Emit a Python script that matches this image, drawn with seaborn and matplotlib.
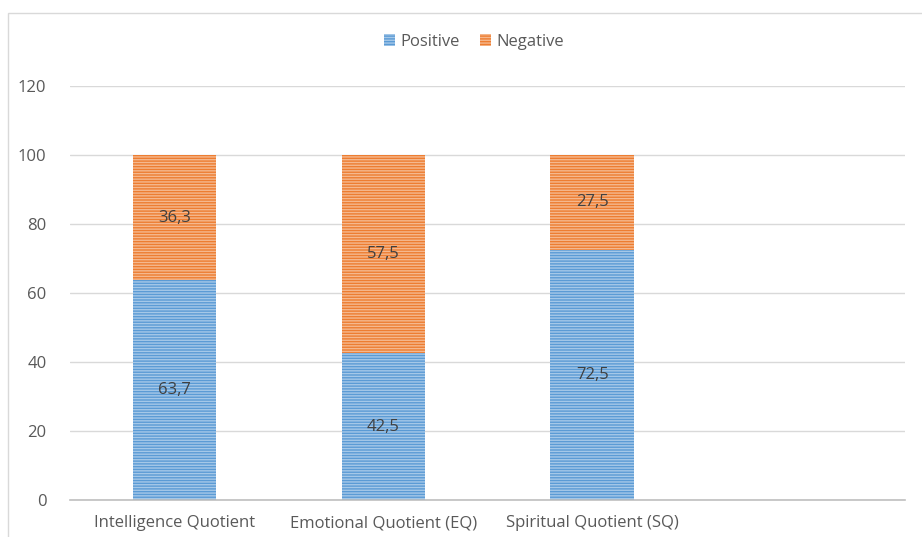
import pandas as pd
import seaborn as sns
import matplotlib.pyplot as plt
from matplotlib.patches import Rectangle

categories = ['Intelligence Quotient', 'Emotional Quotient (EQ)', 'Spiritual Quotient (SQ)']
positive = [63.7, 42.5, 72.5]
negative = [36.3, 57.5, 27.5]
slots = categories + ['']

sns.set_style('white')
plt.rcParams['font.family'] = ['Open Sans', 'DejaVu Sans']
plt.rcParams['hatch.linewidth'] = 1.0

df = pd.DataFrame({'cat': categories, 'pos': positive, 'neg': negative})
df['total'] = df['pos'] + df['neg']

fig = plt.figure(figsize=(9.22, 5.37), dpi=100)
ax = fig.add_axes([0.076, 0.069, 0.906, 0.771])

blue = '#5B9BD5'
orange = '#ED7D31'

sns.barplot(data=df, x='cat', y='total', order=slots, color=orange, width=0.4,
            saturation=1, ax=ax, label='Negative')
sns.barplot(data=df, x='cat', y='pos', order=slots, color=blue, width=0.4,
            saturation=1, ax=ax, label='Positive')

for p in ax.patches:
    fc = p.get_facecolor()
    light = tuple(min(1, c + (1 - c) * 0.45) for c in fc[:3])
    p.set_hatch('------')
    p.set_edgecolor(light)
    p.set_linewidth(0)

for i in range(len(categories)):
    ax.text(i, positive[i] / 2, f'{positive[i]:.1f}'.replace('.', ','),
            ha='center', va='center', fontsize=12, color='#404040')
    ax.text(i, positive[i] + negative[i] / 2, f'{negative[i]:.1f}'.replace('.', ','),
            ha='center', va='center', fontsize=12, color='#404040')

ax.set_ylim(0, 120)
ax.set_yticks(range(0, 121, 20))
ax.set_xlim(-0.5, 3.5)
ax.yaxis.grid(True, color='#d9d9d9', linewidth=1)
ax.set_axisbelow(True)
for s in ['top', 'right', 'left']:
    ax.spines[s].set_visible(False)
ax.spines['bottom'].set_color('#bfbfbf')
ax.spines['bottom'].set_linewidth(1.2)
ax.tick_params(axis='both', length=0, labelsize=12, labelcolor='#595959')
ax.tick_params(axis='y', pad=17)
ax.tick_params(axis='x', pad=11)
ax.set_xlabel('')
ax.set_ylabel('')

handles, labels = ax.get_legend_handles_labels()
if ax.get_legend() is not None:
    ax.get_legend().remove()
order = [labels.index('Positive'), labels.index('Negative')]
fig.legend([handles[k] for k in order], ['Positive', 'Negative'],
           loc='center', bbox_to_anchor=(0.514, 0.922), ncol=2, frameon=False,
           fontsize=12, handlelength=0.7, handleheight=0.7,
           handletextpad=0.3, columnspacing=1.2, labelcolor='#595959')

fig.patches.append(Rectangle((8 / 922, -0.1), 1.2, 1 - 13 / 537 + 0.1,
                             transform=fig.transFigure, fill=False,
                             edgecolor='#d9d9d9', linewidth=1))

fig.savefig('out.png', dpi=100)
